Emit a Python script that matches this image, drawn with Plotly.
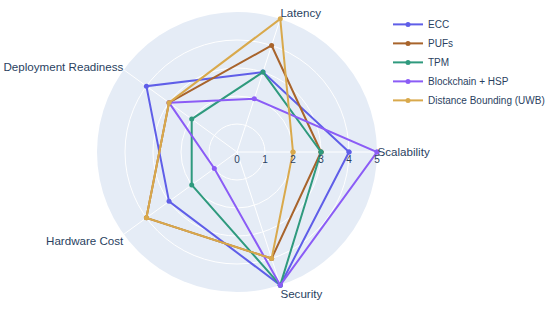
import plotly.graph_objects as go

categories = ["Scalability", "Latency", "Deployment Readiness", "Hardware Cost", "Security"]
series_names = ["ECC", "PUFs", "TPM", "Blockchain + HSP", "Distance Bounding (UWB)"]
ecc = [4, 3, 4, 3, 5]
pufs = [3, 4, 3, 4, 4]
tpm = [3, 3, 2, 2, 5]
blockchain = [5, 2, 3, 1, 5]
dist_bounding = [2, 5, 3, 4, 4]
colors = ["#5f5ee8", "#a8642c", "#2f9a7e", "#8b5cf6", "#d9a94c"]
radial_ticks = [0, 1, 2, 3, 4, 5]

fig = go.Figure()
for name, vals, col in zip(series_names, [ecc, pufs, tpm, blockchain, dist_bounding], colors):
    fig.add_trace(go.Scatterpolar(
        r=vals + vals[:1],
        theta=categories + categories[:1],
        mode="lines+markers",
        name=name,
        line=dict(color=col, width=2),
        marker=dict(color=col, size=5),
    ))

fig.update_layout(
    width=550, height=309,
    margin=dict(l=0, r=0, t=0, b=0),
    paper_bgcolor="white",
    font=dict(family="Arial, Liberation Sans, sans-serif", color="#2a3f5f"),
    polar=dict(
        domain=dict(x=[(237 - 140) / 550, (237 + 140) / 550], y=[17 / 309, 297 / 309]),
        bgcolor="#e5ecf6",
        radialaxis=dict(range=[0, 5], tickvals=radial_ticks, angle=0, showline=False,
                        gridcolor="white", tickfont=dict(size=10), ticks=""),
        angularaxis=dict(rotation=0, direction="counterclockwise", gridcolor="white",
                         showline=False, tickfont=dict(size=11.6), ticks=""),
    ),
    legend=dict(x=1, y=0.968, xanchor="right", yanchor="top", font=dict(size=10)),
)

fig.write_html("out.html")
